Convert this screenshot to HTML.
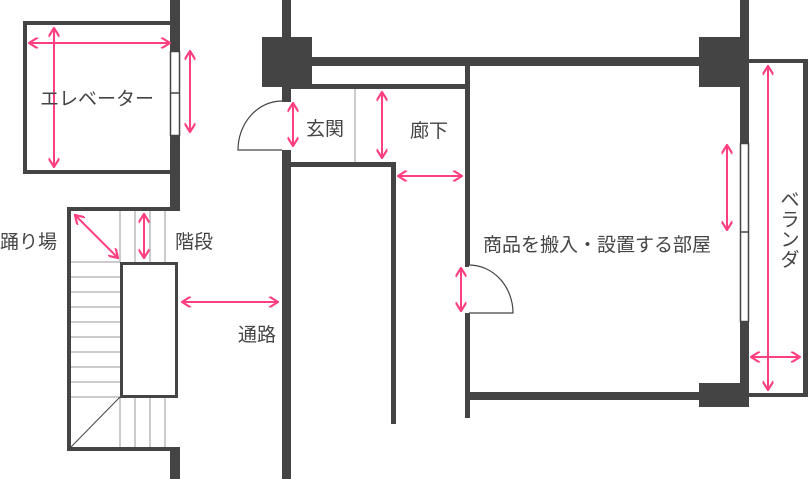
<!DOCTYPE html>
<html><head><meta charset="utf-8"><style>
html,body{margin:0;padding:0;background:#fff;width:808px;height:479px;overflow:hidden}
text{font-family:"Liberation Sans","Noto Sans CJK JP",sans-serif;fill:#444;font-size:19px}
</style></head><body>
<svg width="808" height="479" viewBox="0 0 808 479" xmlns="http://www.w3.org/2000/svg">
<defs>
<marker id="a" viewBox="0 0 10 10" refX="9" refY="5" markerWidth="11" markerHeight="11" markerUnits="userSpaceOnUse" orient="auto-start-reverse">
<polyline points="1,0 9,5 1,10" fill="none" stroke="#ff3f7f" stroke-width="2"/>
</marker>
</defs>
<g fill="#444">
<rect x="23" y="21" width="152" height="4"/>
<rect x="23" y="21" width="4" height="153"/>
<rect x="23" y="170" width="152" height="4"/>
<rect x="170" y="0" width="10" height="211"/>
<rect x="67" y="207" width="113" height="4"/>
<rect x="67" y="207" width="4" height="244"/>
<rect x="67" y="447" width="113" height="4"/>
<rect x="170" y="447" width="10" height="32"/>
<rect x="282" y="0" width="9" height="102"/>
<rect x="282" y="150" width="9" height="329"/>
<rect x="262" y="37" width="50" height="50"/>
<rect x="312" y="57" width="400" height="9"/>
<rect x="290" y="84" width="180" height="5"/>
<rect x="465" y="62" width="5" height="205"/>
<rect x="465" y="313" width="5" height="105"/>
<rect x="290" y="162" width="106" height="5"/>
<rect x="391" y="162" width="5" height="262"/>
<rect x="465" y="392" width="240" height="8"/>
<rect x="699" y="37" width="50" height="50"/>
<rect x="740" y="0" width="9" height="407"/>
<rect x="699" y="383" width="50" height="24"/>
<rect x="749" y="59" width="59" height="4"/>
<rect x="803" y="59" width="5" height="338"/>
<rect x="749" y="393" width="59" height="4"/>
</g>
<rect x="170.5" y="51.5" width="9" height="84" fill="#fff" stroke="#444" stroke-width="1.5"/>
<line x1="170" y1="93" x2="180" y2="93" stroke="#444" stroke-width="1.5"/>
<rect x="740.5" y="143.5" width="8" height="178" fill="#fff" stroke="#444" stroke-width="1.5"/>
<line x1="740" y1="232" x2="749" y2="232" stroke="#444" stroke-width="1.5"/>
<g stroke="#999" stroke-width="1">
<line x1="71" y1="262" x2="120" y2="262"/><line x1="71" y1="277" x2="120" y2="277"/>
<line x1="71" y1="292" x2="120" y2="292"/><line x1="71" y1="307" x2="120" y2="307"/>
<line x1="71" y1="322" x2="120" y2="322"/><line x1="71" y1="337" x2="120" y2="337"/>
<line x1="71" y1="352" x2="120" y2="352"/><line x1="71" y1="367" x2="120" y2="367"/>
<line x1="71" y1="382" x2="120" y2="382"/><line x1="71" y1="397" x2="120" y2="397"/>
<line x1="120" y1="211" x2="120" y2="262"/><line x1="135" y1="211" x2="135" y2="262"/>
<line x1="150" y1="211" x2="150" y2="262"/><line x1="165" y1="211" x2="165" y2="262"/>
<line x1="120" y1="397" x2="120" y2="447"/><line x1="135" y1="397" x2="135" y2="447"/>
<line x1="150" y1="397" x2="150" y2="447"/><line x1="165" y1="397" x2="165" y2="447"/>
<line x1="355" y1="89" x2="355" y2="162"/>
</g>
<line x1="120" y1="397" x2="71" y2="447" stroke="#444" stroke-width="1"/>
<rect x="121.5" y="263.5" width="55" height="133" fill="#fff" stroke="#444" stroke-width="3"/>
<path d="M282,101 A44,49 0 0 0 238,150 L282,150" fill="#fff" stroke="#444" stroke-width="1.2"/>
<path d="M469,265 A44,48 0 0 1 513,313 L469,313" fill="#fff" stroke="#444" stroke-width="1.2"/>
<g stroke="#ff3f7f" stroke-width="2" fill="none" marker-start="url(#a)" marker-end="url(#a)">
<line x1="29" y1="43" x2="170" y2="43"/>
<line x1="54" y1="28" x2="54" y2="167"/>
<line x1="190" y1="51" x2="190" y2="132"/>
<line x1="75" y1="215" x2="118" y2="258"/>
<line x1="144" y1="214" x2="144" y2="258"/>
<line x1="182" y1="302" x2="278" y2="302"/>
<line x1="293" y1="103" x2="293" y2="146"/>
<line x1="382" y1="92" x2="382" y2="158"/>
<line x1="398" y1="176" x2="462" y2="176"/>
<line x1="461" y1="268" x2="461" y2="311"/>
<line x1="727" y1="145" x2="727" y2="230"/>
<line x1="768" y1="66" x2="768" y2="390"/>
<line x1="751" y1="357" x2="800" y2="357"/>
</g>
<text x="40" y="105" font-size="20.5">エレベーター</text>
<text x="0" y="248" font-size="20">踊り場</text>
<text x="175" y="248" font-size="20">階段</text>
<text x="238" y="341" font-size="20">通路</text>
<text x="306" y="135" font-size="20">玄関</text>
<text x="410" y="137" font-size="20">廊下</text>
<text x="483" y="251" font-size="20">商品を搬入・設置する部屋</text>
<g font-size="20" text-anchor="middle">
<text x="790" y="206">ベ</text>
<text x="790" y="226">ラ</text>
<text x="790" y="246">ン</text>
<text x="790" y="266">ダ</text>
</g>
</svg>
</body></html>
